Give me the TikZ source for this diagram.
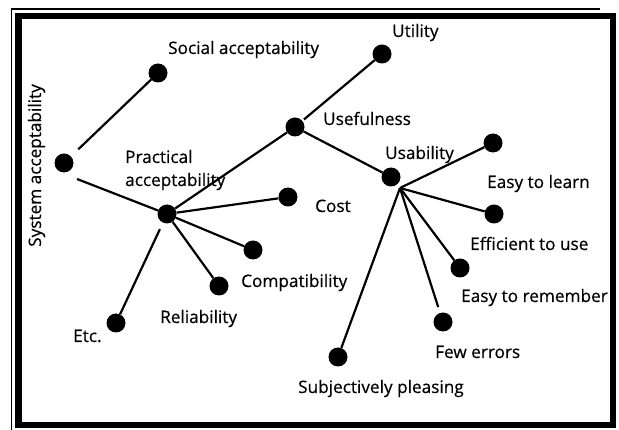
\documentclass[tikz,border=0pt]{standalone}
\usepackage{fontspec}
\setmainfont{Open Sans}[FakeBold=0.5]
\begin{document}
\begin{tikzpicture}[x=1pt,y=-1pt,
  dot/.style={circle,fill=black,inner sep=0pt,minimum size=19pt},
  link/.style={line width=2.2pt},
  lbl/.style={anchor=base west,inner sep=0pt,font=\fontsize{17.2}{20}\selectfont},
  frameline/.style={line width=6.5pt},
  hairline/.style={line width=1.2pt}]
\useasboundingbox (0,0) rectangle (619,430);

% border
\draw[frameline] (18.5,16) rectangle (613,425);
\draw[hairline] (11.5,430) -- (11.5,9) -- (600,9);

% dots
\node[dot] (sys)    at (64,163)  {};
\node[dot] (soc)    at (158,73)  {};
\node[dot] (prac)   at (167,214) {};
\node[dot] (use)    at (295,127) {};
\node[dot] (util)   at (382,54)  {};
\node[dot] (usab)   at (391,177) {};
\node[dot] (learn)  at (493,143) {};
\node[dot] (eff)    at (494,214) {};
\node[dot] (rem)    at (460,268) {};
\node[dot] (few)    at (443,322) {};
\node[dot] (subj)   at (338,357) {};
\node[dot] (cost)   at (288,197) {};
\node[dot] (compat) at (253,250) {};
\node[dot] (rel)    at (219,286) {};
\node[dot] (etc)    at (116,323) {};
\coordinate (hub) at ([shift={(9,11)}]usab.center);

% connectors
\draw[link, shorten <=10pt] (sys) -- (soc);
\draw[link] ([shift={(13,16)}]sys.center) -- (prac);
\draw[link] (prac) -- (use);
\draw[link, shorten <=2pt] (use) -- (util);
\draw[link] (use) -- (usab);
\draw[link] (prac) -- (cost);
\draw[link] (prac) -- (compat);
\draw[link] (prac) -- (rel);
\draw[link, shorten <=7pt] (prac) -- (etc);
\draw[link] (hub) -- (learn);
\draw[link] (hub) -- (eff);
\draw[link] (hub) -- (rem);
\draw[link, shorten >=6pt] (hub) -- (few);
\draw[link] (hub) -- (subj);

% labels
\node[lbl, rotate=90] (tsys) at (41,247) {System acceptability};
\node[lbl] (tsoc)   at (168,54)  {Social acceptability};
\node[lbl] (tutil)  at (392,37)  {Utility};
\node[lbl] (tuse)   at (323,125) {Usefulness};
\node[lbl] (tusab)  at (385,159) {Usability};
\node[lbl] (tlearn) at (487,188) {Easy to learn};
\node[lbl] (tcost)  at (315,212) {Cost};
\node[lbl] (teff)   at (470,250) {Efficient to use};
\node[lbl] (trem)   at (461,302) {Easy to remember};
\node[lbl] (tfew)   at (435,358) {Few errors};
\node[lbl] (tsubj)  at (298,393) {Subjectively pleasing};
\node[lbl] (tcomp)  at (241,287) {Compatibility};
\node[lbl] (trel)   at (160,323) {Reliability};
\node[lbl] (tetc)   at (73,342)  {Etc.};
\node[lbl] (tpracA) at (125,163) {Practical};
\node[lbl] (tpracB) at (125,186) {acceptability};
\end{tikzpicture}
\end{document}
